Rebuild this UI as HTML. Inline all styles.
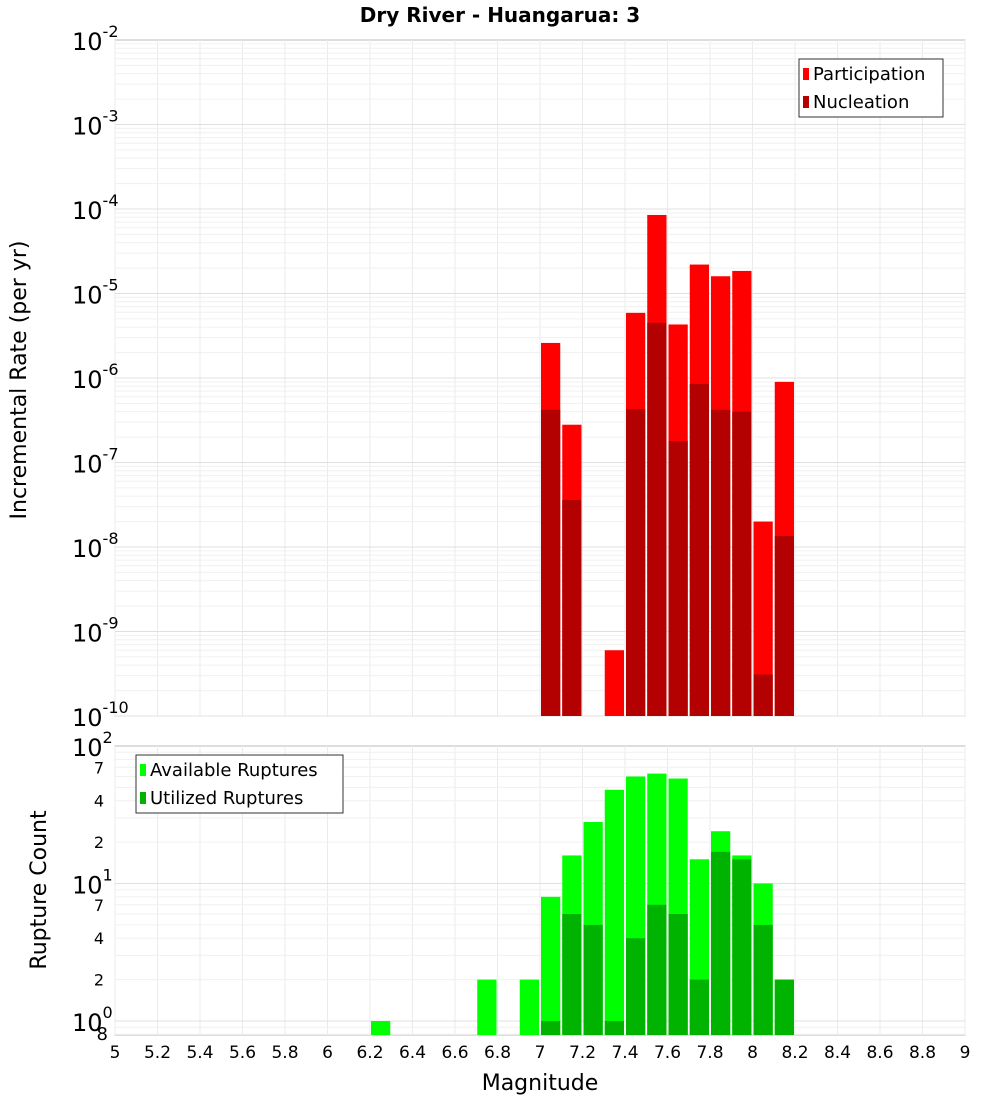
<!DOCTYPE html>
<html><head><meta charset="utf-8"><style>
body{margin:0;background:#fff;font-family:"Liberation Sans","DejaVu Sans",sans-serif}
svg text{font-family:"DejaVu Sans","Liberation Sans",sans-serif}
</style></head><body>
<svg id="c" width="1000" height="1100" xmlns="http://www.w3.org/2000/svg"></svg>
<script>
const magBins=[6.2,6.7,6.9,7.0,7.1,7.2,7.3,7.4,7.5,7.6,7.7,7.8,7.9,8.0,8.1];
const availableCounts=[1,2,2,8,16,28,48,60,63,58,15,24,16,10,2];
const utilizedCounts=[0,0,0,1,6,5,1,4,7,6,2,17,15,5,2];
const rateBins=[7.0,7.1,7.3,7.4,7.5,7.6,7.7,7.8,7.9,8.0,8.1];
const participationRates=[2.6e-6,2.8e-7,6e-10,5.9e-6,8.5e-5,4.3e-6,2.2e-5,1.6e-5,1.85e-5,2e-8,9e-7];
const nucleationRates=[4.2e-7,3.6e-8,0,4.3e-7,4.5e-6,1.8e-7,8.5e-7,4.2e-7,4e-7,3.1e-10,1.35e-8];
const xTicks=[5,5.2,5.4,5.6,5.8,6,6.2,6.4,6.6,6.8,7,7.2,7.4,7.6,7.8,8,8.2,8.4,8.6,8.8,9];

const svg=document.getElementById('c');
const NS='http://www.w3.org/2000/svg';
function el(t,a,txt){const e=document.createElementNS(NS,t);for(const k in a)e.setAttribute(k,a[k]);if(txt!==undefined)e.textContent=txt;svg.appendChild(e);return e;}
const X0=115,X1=965;
const xS=m=>X0+(m-5)*(X1-X0)/4;
const T0=40,T1=716;
const yT=v=>T0+(-2-Math.log10(v))*84.5;
const B0=746,B1=1035;
const yB=v=>1021-137.5*Math.log10(v);

// title
let t=el('text',{x:500,y:22,'text-anchor':'middle','font-size':20,'font-weight':'bold'},'Dry River - Huangarua: 3');


function frame(y0,y1,name){
  let r=el('rect',{x:X0,y:y0,width:X1-X0,height:y1-y0,fill:'#fff',stroke:'#bbb'});
  
  xTicks.forEach(m=>{let g=el('line',{x1:xS(m),x2:xS(m),y1:y0,y2:y1,stroke:'#ebebeb'});});
}
frame(T0,T1,'rate-plot-area');
frame(B0,B1,'count-plot-area');
// top log grid
for(let e=-10;e<-2;e++){for(let k=1;k<10;k++){const y=yT(k*Math.pow(10,e));let g=el('line',{x1:X0,x2:X1,y1:y,y2:y,stroke:k==1?'#e0e0e0':'#f0f0f0'});}}
for(let e=-1;e<2;e++){for(let k=1;k<10;k++){const v=k*Math.pow(10,e);const y=yB(v);if(y<B0||y>B1)continue;let g=el('line',{x1:X0,x2:X1,y1:y,y2:y,stroke:k==1?'#e0e0e0':'#f0f0f0'});}}

// top bars
rateBins.forEach((m,i)=>{
  const x=xS(m)+1,w=xS(m+0.1)-xS(m)-2;
  let p=participationRates[i];if(p>0){let r=el('rect',{x:x,y:yT(p),width:w,height:T1-yT(p),fill:'#ff0000'});}
  let n=nucleationRates[i];if(n>0){let r=el('rect',{x:x,y:yT(n),width:w,height:T1-yT(n),fill:'#b30000'});}
});
magBins.forEach((m,i)=>{
  const x=xS(m)+1,w=xS(m+0.1)-xS(m)-2;
  let a=availableCounts[i];if(a>0){let r=el('rect',{x:x,y:yB(a),width:w,height:B1-yB(a),fill:'#00ff00'});}
  let u=utilizedCounts[i];if(u>0){let r=el('rect',{x:x,y:yB(u),width:w,height:B1-yB(u),fill:'#00b300'});}
});

// top y ticks
for(let e=-10;e<=-2;e++){
  const y=yT(Math.pow(10,e));
  let g=el('text',{x:72,y:y+10,'font-size':24});
  g.innerHTML='10<tspan dy="-13" font-size="16">'+e+'</tspan>';
}
// bottom y ticks
[[100,'10','2'],[10,'10','1'],[1,'10','0']].forEach(([v,b,s])=>{
  const y=yB(v);let g=el('text',{x:72,y:y+10,'font-size':24});
  g.innerHTML=b+'<tspan dy="-13" font-size="16">'+s+'</tspan>';
});
[[70,'7'],[40,'4'],[20,'2'],[7,'7'],[4,'4'],[2,'2']].forEach(([v,s])=>{
  let g=el('text',{x:104,y:yB(v)+6,'font-size':16,'text-anchor':'end'},s);
});
let e8=el('text',{x:108,y:1040,'font-size':18,'text-anchor':'end'},'8');

// x ticks
xTicks.forEach(m=>{let g=el('text',{x:xS(m),y:1058,'font-size':17,'text-anchor':'middle'},String(m));});
let xl=el('text',{x:540,y:1090,'font-size':22,'text-anchor':'middle'},'Magnitude');
let yl=el('text',{x:0,y:0,'font-size':22,'text-anchor':'middle',transform:'translate(26,380) rotate(-90)'},'Incremental Rate (per yr)');
let yl2=el('text',{x:0,y:0,'font-size':22,'text-anchor':'middle',transform:'translate(46,890) rotate(-90)'},'Rupture Count');

// legends
function legend(x,y,w,items,name){
  let r=el('rect',{x:x,y:y,width:w,height:58,fill:'#fff',stroke:'#333'});
  items.forEach(([c,s],i)=>{
    let sw=el('rect',{x:x+4,y:y+9+i*28,width:6,height:12,fill:c});
    let tx=el('text',{x:x+14,y:y+21+i*28,'font-size':18},s);
  });
}
legend(799,59,144,[['#ff0000','Participation'],['#b30000','Nucleation']],'rate-legend');
legend(136,755,207,[['#00ff00','Available Ruptures'],['#00b300','Utilized Ruptures']],'count-legend');
</script>
</body></html>
